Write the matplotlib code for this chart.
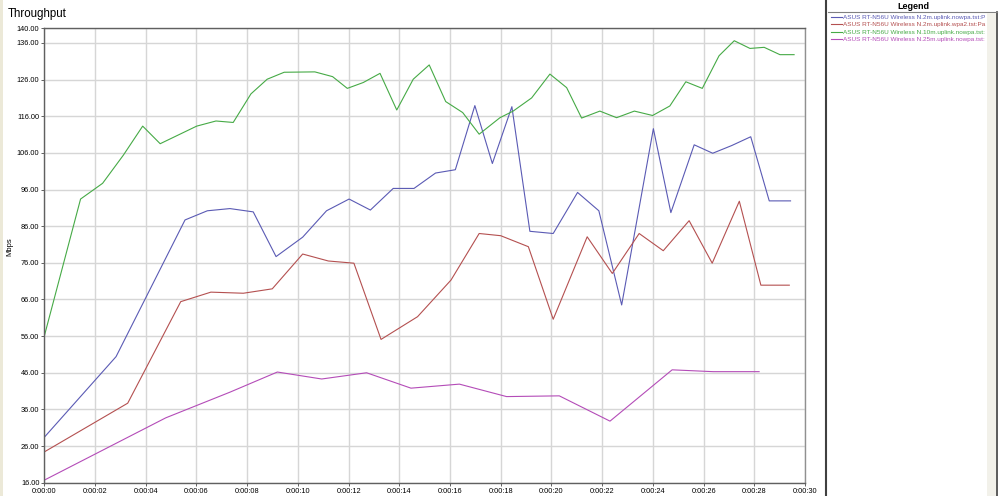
import matplotlib
matplotlib.use("Agg")
import matplotlib.pyplot as plt
from matplotlib.ticker import FuncFormatter, FixedLocator
from matplotlib.patches import Rectangle
from matplotlib.lines import Line2D

plt.rcParams['font.family'] = ['Liberation Sans', 'DejaVu Sans']

# series: time (s) and throughput (Mbps)
labels = ["ASUS RT-N56U Wireless N.2m.uplink.nowpa.tst:P",
          "ASUS RT-N56U Wireless N.2m.uplink.wpa2.tst:Pa",
          "ASUS RT-N56U Wireless N.10m.uplink.nowpa.tst:",
          "ASUS RT-N56U Wireless N.25m.uplink.nowpa.tst:"]

t_blue = [0, 2.83, 5.55, 6.43, 7.32, 8.24, 9.14, 10.19, 11.13, 12.02, 12.86, 13.76, 14.58, 15.43,
          16.21, 16.98, 17.67, 18.44, 19.15, 20.07, 21.03, 21.87, 22.77, 24.02, 24.71, 25.63,
          26.36, 27.11, 27.86, 28.59, 29.43]
v_blue = [28.4, 50.4, 87.7, 90.2, 90.8, 89.9, 77.7, 83.0, 90.2, 93.4, 90.4, 96.3, 96.3, 100.5,
          101.4, 118.9, 103.1, 118.6, 84.6, 84.0, 95.2, 90.2, 64.5, 112.6, 89.7, 108.2,
          105.9, 108.0, 110.4, 92.9, 92.9]

t_red = [0, 3.29, 5.38, 6.57, 7.85, 8.99, 10.19, 11.20, 12.21, 13.28, 14.72, 16.04, 17.15, 18.0,
         19.09, 20.07, 21.41, 22.40, 23.46, 24.41, 25.43, 26.34, 27.41, 28.26, 29.38]
v_red = [24.4, 37.7, 65.4, 68.0, 67.7, 68.9, 78.4, 76.5, 75.9, 55.1, 61.3, 71.3, 84.0, 83.4,
         80.4, 60.6, 83.1, 73.1, 84.0, 79.3, 87.5, 75.9, 92.8, 69.9, 69.9]

t_green = [0, 1.43, 2.30, 3.12, 3.88, 4.57, 6.01, 6.77, 7.45, 8.15, 8.79, 9.46, 10.67, 11.37,
           11.95, 12.58, 13.24, 13.90, 14.55, 15.18, 15.83, 16.50, 17.15, 17.97, 18.49, 19.22,
           19.94, 20.60, 21.19, 21.91, 22.57, 23.27, 23.99, 24.67, 25.30, 25.95, 26.61, 27.21,
           27.83, 28.39, 29.01, 29.57]
v_green = [56.0, 93.4, 97.7, 105.4, 113.3, 108.5, 113.3, 114.7, 114.3, 122.1, 126.1, 128.0, 128.1, 126.8,
           123.6, 125.2, 127.7, 117.7, 126.1, 130.0, 120.0, 117.0, 111.1, 115.6, 117.4, 121.0,
           127.5, 123.8, 115.5, 117.4, 115.6, 117.4, 116.2, 118.8, 125.4, 123.6, 132.5, 136.6,
           134.5, 134.8, 132.8, 132.8]

t_mag = [0, 4.79, 7.32, 9.19, 10.94, 12.71, 14.46, 16.37, 18.23, 20.31, 22.31, 24.76, 26.38, 28.19]
v_mag = [16.7, 33.7, 40.7, 46.2, 44.3, 46.0, 41.8, 42.9, 39.5, 39.7, 32.8, 46.8, 46.3, 46.3]

colors = ['#5a5ab4', '#b45050', '#46aa46', '#b44cb8']
yticks = [16, 26, 36, 46, 56, 66, 76, 86, 96, 106, 116, 126, 136, 140]
xticks = list(range(0, 31, 2))

fig = plt.figure(figsize=(10, 4.96), dpi=100)
fig.patch.set_facecolor('white')
ax = fig.add_axes([0.0443, 0.0268, 0.7607, 0.9162])

series = [(t_blue, v_blue), (t_red, v_red), (t_green, v_green), (t_mag, v_mag)]
handles = []
for (t, v), c, lab in zip(series, colors, labels):
    h, = ax.plot(t, v, color=c, lw=0.8, label=lab)
    handles.append(h)

ax.set_xlim(0, 30)
ax.set_ylim(16, 140)
ax.yaxis.set_major_locator(FixedLocator(yticks))
ax.xaxis.set_major_locator(FixedLocator(xticks))
ax.yaxis.set_major_formatter(FuncFormatter(lambda v, p: "%.2f" % v))
ax.xaxis.set_major_formatter(FuncFormatter(lambda s, p: "0:00:%02d" % int(round(s))))
ax.grid(True, color='#d6d6d6', lw=1.0)
ax.set_axisbelow(True)
ax.tick_params(labelsize=5.3, length=2.5, width=0.7, color='#606060', pad=1)
for s in ['left', 'bottom', 'top']:
    ax.spines[s].set_color('#606060')
ax.spines['right'].set_color('#909090')
for s in ax.spines.values():
    s.set_linewidth(1.0)

ax.set_ylabel("Mbps", fontsize=5.5)
ax.yaxis.set_label_coords(-0.041, 0.52)
fig.text(0.008, 0.971, "Throughput", fontsize=8.3, va='center', ha='left')

# left border strip
fig.patches.append(Rectangle((0, 0), 0.003, 1, transform=fig.transFigure,
                             facecolor='#ece9d8', edgecolor='none'))

# legend panel
fig.lines.append(Line2D([0.826, 0.826], [0, 1], transform=fig.transFigure, color='#404040', lw=1.5))
fig.lines.append(Line2D([0.997, 0.997], [0, 0.975], transform=fig.transFigure, color='#404040', lw=1.2))
fig.lines.append(Line2D([0.828, 0.997], [0.975, 0.975], transform=fig.transFigure, color='#808080', lw=0.8))
fig.patches.append(Rectangle((0.987, 0), 0.009, 0.973, transform=fig.transFigure,
                             facecolor='#f2f1ea', edgecolor='none', zorder=5))
fig.text(0.913, 0.986, "Legend", fontsize=6.5, fontweight='bold', ha='center', va='center')
fig.legend(handles=handles, labels=labels, loc='upper left', bbox_to_anchor=(0.831, 0.971),
           frameon=False, fontsize=4.6, labelcolor='linecolor', handlelength=1.7,
           handletextpad=0.15, labelspacing=0.32, borderpad=0, borderaxespad=0)

fig.savefig("out.png", dpi=100)
